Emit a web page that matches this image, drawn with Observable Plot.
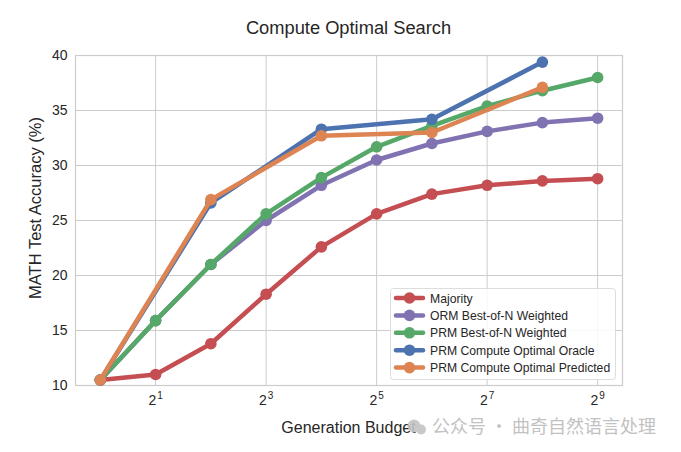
<!DOCTYPE html>
<html>
<head>
<meta charset="utf-8">
<script src="https://cdn.jsdelivr.net/npm/d3@7"></script>
<script src="https://cdn.jsdelivr.net/npm/@observablehq/plot@0.6"></script>
<style>
  html, body { margin: 0; padding: 0; background: #fff; }
  #chart { width: 681px; height: 452px; }
  svg { font-family: "Liberation Sans", Arial, sans-serif; }
</style>
</head>
<body>
<div id="chart"></div>
<script>
// ---- data ----
const budgets = [1, 2, 4, 8, 16, 32, 64, 128, 256, 512];
const majority = [10.5, 11.0, 13.8, 18.3, 22.6, 25.6, 27.4, 28.2, 28.6, 28.8];
const ormBoN   = [10.5, 15.9, 21.0, 25.0, 28.2, 30.5, 32.0, 33.1, 33.9, 34.3];
const prmBoN   = [10.5, 15.9, 21.0, 25.6, 28.9, 31.7, 33.6, 35.4, 36.8, 38.0];
const optimalBudgets = [1, 4, 16, 64, 256];
const oracle    = [10.5, 26.6, 33.3, 34.2, 39.4];
const predicted = [10.5, 26.9, 32.7, 33.0, 37.1];

const seriesNames = ["Majority", "ORM Best-of-N Weighted", "PRM Best-of-N Weighted",
  "PRM Compute Optimal Oracle", "PRM Compute Optimal Predicted"];
const seriesColors = ["#C44E52", "#8172B2", "#55A868", "#4C72B0", "#DD8452"];
const xTicks = [2, 8, 32, 128, 512];
const yTicks = [10, 15, 20, 25, 30, 35, 40];

const seriesX = [budgets, budgets, budgets, optimalBudgets, optimalBudgets];
const seriesY = [majority, ormBoN, prmBoN, oracle, predicted];
const rows = [];
seriesNames.forEach((name, i) => {
  seriesX[i].forEach((b, j) => rows.push({series: name, budget: b, acc: seriesY[i][j]}));
});

const W = 681, H = 452;
const grid = "#cccccc";

const marks = [
  Plot.gridX(xTicks, {stroke: grid, strokeOpacity: 1, strokeWidth: 1}),
  Plot.gridY(yTicks, {stroke: grid, strokeOpacity: 1, strokeWidth: 1}),
  Plot.frame({stroke: grid, strokeWidth: 1.2}),
  Plot.axisX(xTicks, {tickSize: 0, tickPadding: 10, fontSize: 14, fill: "#262626",
    tickFormat: d => "2^" + Math.round(Math.log2(d)), label: null}),
  Plot.axisY(yTicks, {tickSize: 0, tickPadding: 8, fontSize: 14, fill: "#262626", label: null})
];
seriesNames.forEach((name, i) => {
  const data = rows.filter(r => r.series === name);
  marks.push(Plot.line(data, {x: "budget", y: "acc", stroke: seriesColors[i], strokeWidth: 4.5}));
  marks.push(Plot.dot(data, {x: "budget", y: "acc", fill: seriesColors[i], r: 5.8, stroke: "none"}));
});

const chart = Plot.plot({
  width: W, height: H,
  marginLeft: 75, marginRight: 59, marginTop: 55, marginBottom: 67,
  style: {fontFamily: '"Liberation Sans", Arial, sans-serif', background: "#fff"},
  x: {type: "log", base: 2, domain: [Math.pow(2, -0.45), Math.pow(2, 9.45)]},
  y: {domain: [10, 40]},
  marks
});

document.getElementById("chart").appendChild(chart);
const svg = d3.select(chart);

// superscript tick labels
svg.selectAll("text").each(function() {
  const t = d3.select(this);
  const txt = t.text();
  const m = /^2\^(\d+)$/.exec(txt);
  if (m) {
    t.text(null);
    t.append("tspan").text("2");
    t.append("tspan").attr("font-size", 10).attr("dy", "-0.6em").attr("dx", "1").text(m[1]);
  }
});

const font = '"Liberation Sans", Arial, sans-serif';
// title
svg.append("text").attr("x", 348.5).attr("y", 34).attr("text-anchor", "middle")
  .attr("font-size", 18.3).attr("fill", "#262626").attr("font-family", font)
  .text("Compute Optimal Search");
// axis labels
svg.append("text").attr("x", 348.5).attr("y", 433).attr("text-anchor", "middle")
  .attr("font-size", 16).attr("fill", "#262626").attr("font-family", font)
  .text("Generation Budget");
svg.append("text").attr("transform", "translate(41,208) rotate(-90)").attr("text-anchor", "middle")
  .attr("font-size", 16.5).attr("fill", "#262626").attr("font-family", font)
  .text("MATH Test Accuracy (%)");

// legend
const lg = svg.append("g");
lg.append("rect").attr("x", 390.5).attr("y", 288.5).attr("width", 225).attr("height", 91)
  .attr("rx", 3).attr("fill", "#fff").attr("fill-opacity", 0.85).attr("stroke", "#dddddd");
seriesNames.forEach((name, i) => {
  const y = 298 + i * 17.4;
  lg.append("line").attr("x1", 396).attr("x2", 423).attr("y1", y).attr("y2", y)
    .attr("stroke", seriesColors[i]).attr("stroke-width", 4.5).attr("stroke-linecap", "round");
  lg.append("circle").attr("cx", 409.5).attr("cy", y).attr("r", 5.8).attr("fill", seriesColors[i]);
  lg.append("text").attr("x", 430).attr("y", y + 4.5).attr("font-size", 12.2)
    .attr("text-anchor", "start")
    .attr("fill", "#262626").attr("font-family", font).text(name);
});

// watermark
const wm = svg.append("g").attr("opacity", 0.9);
wm.append("circle").attr("cx", 414).attr("cy", 426).attr("r", 6.5).attr("fill", "#c4c4c4");
wm.append("circle").attr("cx", 421).attr("cy", 429.5).attr("r", 5).attr("fill", "#c4c4c4");
wm.append("text").attr("x", 432).attr("y", 433).attr("font-size", 18)
  .attr("text-anchor", "start")
  .attr("font-family", '"Noto Sans CJK SC", sans-serif').attr("fill", "#bcbcbc")
  .text("公众号 · 曲奇自然语言处理");
</script>
</body>
</html>
